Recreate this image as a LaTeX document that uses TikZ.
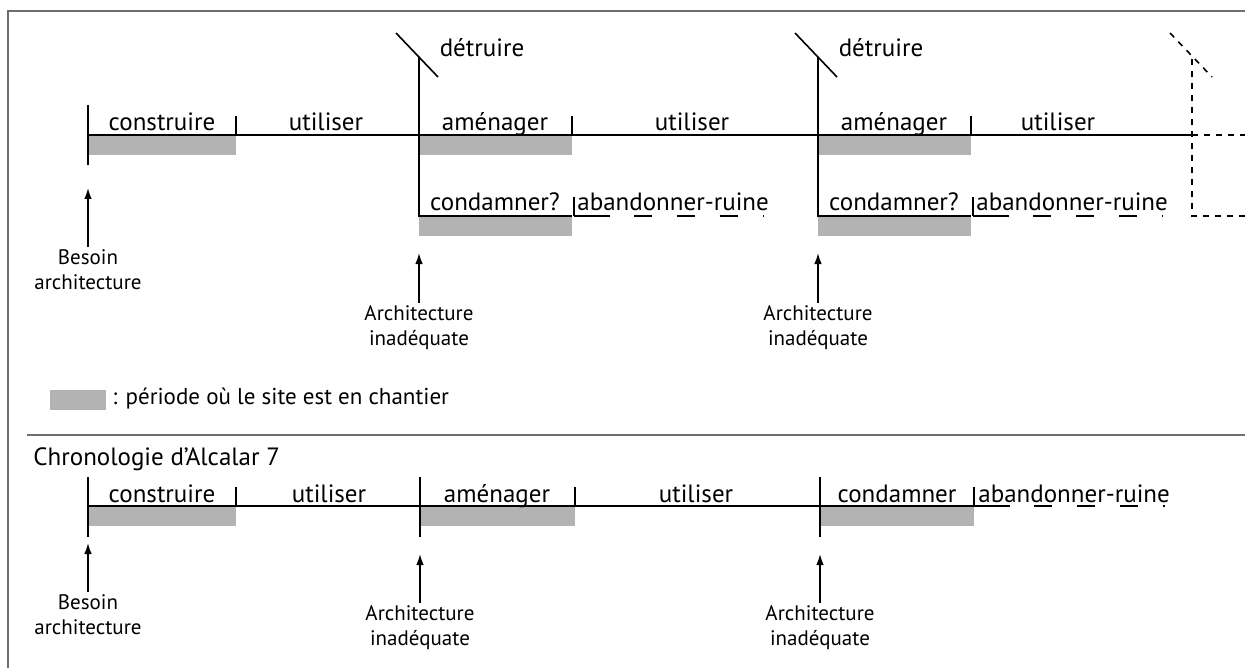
\documentclass[tikz,border=0pt]{standalone}
\usepackage{fontspec}
\setmainfont{PT Sans}
\usepackage{xcolor}
\usepackage{tikz}
\usetikzlibrary{arrows.meta,positioning}
\definecolor{SiteGray}{HTML}{B3B3B3}
\definecolor{FrameGray}{HTML}{6E6E6E}

\begin{document}
\begin{tikzpicture}[x=0.5pt,y=-0.5pt,>={Latex[length=5.5pt,width=3.8pt]},
  phase/.style={anchor=base,inner sep=0pt,font=\fontsize{12.5}{14}\selectfont},
  cause/.style={align=center,inner sep=1pt,font=\fontsize{10.5}{12.5}\selectfont},
  works/.style={fill=SiteGray,draw=none},
  axis/.style={line width=0.8pt},
  ruin/.style={line width=0.8pt,dash pattern=on 18pt off 12pt on 9pt off 12.5pt on 9pt off 12.5pt on 9pt off 12.5pt on 1pt}]
\useasboundingbox (0,0) rectangle (1245,668);
\draw[FrameGray,line width=1pt] (8,668) -- (8,11) -- (1245,11);
% schema general
\fill[works] (88,135) rectangle (236,155); \fill[works] (419,135) rectangle (572,155); \fill[works] (818,135) rectangle (971,155);
\fill[works] (419,216) rectangle (572,236); \fill[works] (818,216) rectangle (971,236);
\draw[axis] (88,105) -- (88,165); \draw[axis] (88,135) -- (1192,135); \draw[axis,dashed] (1192,135) -- (1245,135);
\draw[axis] (236,116) -- (236,135); \draw[axis] (572,116) -- (572,135); \draw[axis] (971,116) -- (971,135);
\draw[axis] (396,33) -- (438,77); \draw[axis] (419,57) -- (419,216) -- (572,216); \draw[axis] (574,197) -- (574,216); \draw[ruin] (574,216) -- (764,216);
\draw[axis] (795,33) -- (837,77); \draw[axis] (818,57) -- (818,216) -- (971,216); \draw[axis] (973,197) -- (973,216); \draw[ruin] (973,216) -- (1163,216);
\draw[axis,dashed] (1170,33) -- (1212,77); \draw[axis,dashed] (1245,216) -- (1192,216) -- (1192,57);
\node[phase] (build1) at (162,131) {construire}; \node[phase] (use1) at (326,131) {utiliser};
\node[phase] (fit1) at (495,131) {aménager}; \node[phase] (use2) at (692,131) {utiliser};
\node[phase] (fit2) at (894,131) {aménager}; \node[phase] (use3) at (1058,131) {utiliser};
\node[phase] (wreck1) at (482,57) {détruire}; \node[phase] (wreck2) at (881,57) {détruire};
\node[phase] (close1) at (495,211) {condamner?}; \node[phase,anchor=base west] (ruin1) at (577,211) {abandonner-ruine};
\node[phase] (close2) at (894,211) {condamner?}; \node[phase,anchor=base west] (ruin2) at (976,211) {abandonner-ruine};
\coordinate (tip1) at (88,188); \coordinate (tail1) at (88,243);
\coordinate (tip2) at (419,253); \coordinate (tail2) at (419,299);
\coordinate (tip3) at (818,253); \coordinate (tail3) at (818,299);
\node[cause,below=2pt of tail1] (need1) {Besoin\\architecture};
\node[cause,below=2pt of tail2] (unfit1) {Architecture\\inadéquate};
\node[cause,below=2pt of tail3] (unfit2) {Architecture\\inadéquate};
\draw[->,axis] (need1) -- (tip1); \draw[->,axis] (unfit1) -- (tip2); \draw[->,axis] (unfit2) -- (tip3);
% legende
\fill[works] (50,390) rectangle (106,410);
\node[phase,anchor=base west,font=\fontsize{11.5}{14}\selectfont] (key) at (112,404) {: période où le site est en chantier};
\draw[FrameGray,line width=1pt] (27,435) -- (1245,435);
% Alcalar 7
\node[phase,anchor=base west] (chrono) at (33,465) {Chronologie d'Alcalar 7};
\fill[works] (88,506) rectangle (236,526); \fill[works] (420,506) rectangle (575,526); \fill[works] (820,506) rectangle (974,526);
\draw[axis] (88,477) -- (88,537); \draw[axis] (420,477) -- (420,537); \draw[axis] (820,477) -- (820,537);
\draw[axis] (88,506) -- (974,506); \draw[ruin] (974,506) -- (1167,506);
\draw[axis] (236,487) -- (236,506); \draw[axis] (575,487) -- (575,506); \draw[axis] (974,487) -- (974,506);
\node[phase] (build7) at (162,502) {construire}; \node[phase] (use7a) at (329,502) {utiliser};
\node[phase] (fit7) at (497,502) {aménager}; \node[phase] (use7b) at (696,502) {utiliser};
\node[phase] (close7) at (897,502) {condamner}; \node[phase,anchor=base west] (ruin7) at (978,502) {abandonner-ruine};
\coordinate (tip4) at (88,543); \coordinate (tail4) at (88,588);
\coordinate (tip5) at (420,554); \coordinate (tail5) at (420,599);
\coordinate (tip6) at (820,554); \coordinate (tail6) at (820,599);
\node[cause,below=2pt of tail4] (need7) {Besoin\\architecture};
\node[cause,below=2pt of tail5] (unfit7a) {Architecture\\inadéquate};
\node[cause,below=2pt of tail6] (unfit7b) {Architecture\\inadéquate};
\draw[->,axis] (need7) -- (tip4); \draw[->,axis] (unfit7a) -- (tip5); \draw[->,axis] (unfit7b) -- (tip6);
\end{tikzpicture}
\end{document}
